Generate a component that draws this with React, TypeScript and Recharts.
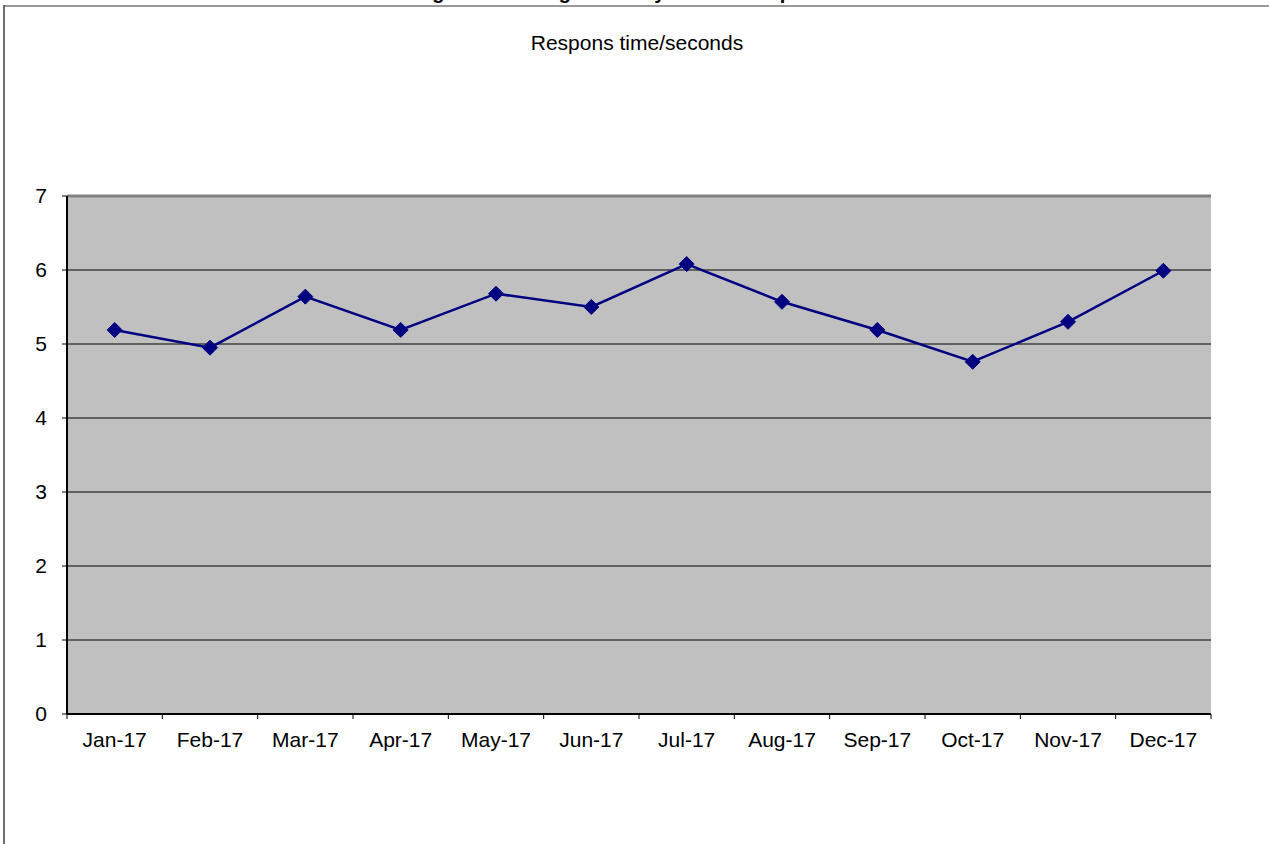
import React from "react";
import { LineChart, Line, XAxis, YAxis, CartesianGrid, ReferenceLine } from "recharts";

const months = ["Jan-17", "Feb-17", "Mar-17", "Apr-17", "May-17", "Jun-17", "Jul-17", "Aug-17", "Sep-17", "Oct-17", "Nov-17", "Dec-17"];
const responseSeconds = [5.19, 4.95, 5.64, 5.19, 5.68, 5.5, 6.08, 5.57, 5.19, 4.76, 5.3, 5.99];
const yTicks = [0, 1, 2, 3, 4, 5, 6, 7];
const chartTitle = "Figure 5: Average monthly website response time";
const subTitle = "Respons time/seconds";

const data = months.map((m, i) => ({ month: m, value: responseSeconds[i] }));

const FONT = "Arial, 'Liberation Sans', sans-serif";

const Diamond = (props: any) => {
  const { cx, cy } = props;
  if (cx == null || cy == null) return null;
  const r = 7.5;
  return (
    <polygon
      points={`${cx},${cy - r} ${cx + r},${cy} ${cx},${cy + r} ${cx - r},${cy}`}
      fill="#000080"
      stroke="#000080"
      strokeWidth={1}
    />
  );
};

const MonthTick = (props: any) => {
  const { x, y, payload, index, visibleTicksCount } = props;
  const half = payload.offset || 0;
  const last = index === visibleTicksCount - 1;
  return (
    <g>
      <line x1={x - half} x2={x - half} y1={y} y2={y + 5} stroke="#000" strokeWidth={1} />
      {last && <line x1={x + half} x2={x + half} y1={y} y2={y + 5} stroke="#000" strokeWidth={1} />}
      <text x={x} y={y + 33} textAnchor="middle" fontSize={21} fontFamily={FONT} fill="#000">
        {payload.value}
      </text>
    </g>
  );
};

export default function App() {
  return (
    <div style={{ position: "absolute", left: 0, top: 0, width: 1269, height: 844, background: "#fff", overflow: "hidden" }}>
      <div style={{ position: "absolute", left: 0, top: 0 }}>
        <LineChart width={1269} height={844} data={data} margin={{ top: 196, right: 58, left: 7, bottom: 100 }}>
          <CartesianGrid vertical={false} horizontal={true} stroke="#000" strokeOpacity={1} fill="#C0C0C0" fillOpacity={1} />
          <XAxis
            dataKey="month"
            scale="band"
            height={30}
            axisLine={{ stroke: "#000", strokeWidth: 2 }}
            tickLine={false}
            tickSize={0}
            tickMargin={0}
            interval={0}
            tick={<MonthTick />}
          />
          <YAxis
            yAxisId="r"
            orientation="right"
            width={0}
            domain={[0, 7]}
            tick={false}
            tickLine={false}
            axisLine={{ stroke: "#808080", strokeWidth: 3 }}
          />
          <YAxis
            domain={[0, 7]}
            ticks={yTicks}
            width={60}
            interval={0}
            axisLine={{ stroke: "#000", strokeWidth: 2 }}
            tickLine={{ stroke: "#000" }}
            tickSize={5}
            tickMargin={15}
            tick={{ fill: "#000", fontSize: 21, fontFamily: FONT }}
          />
          <ReferenceLine y={7} stroke="#808080" strokeWidth={3} />
          <Line
            type="linear"
            dataKey="value"
            stroke="#000080"
            strokeWidth={2.5}
            dot={<Diamond />}
            activeDot={false}
            isAnimationActive={false}
          />
        </LineChart>
      </div>
      <svg width={1269} height={844} style={{ position: "absolute", left: 0, top: 0, pointerEvents: "none" }}>
        <text x={650} y={-1} textAnchor="middle" fontSize={20} fontWeight="bold" fontFamily={FONT} fill="#000">
          {chartTitle}
        </text>
        <line x1={4} x2={1269} y1={6} y2={6} stroke="#999" strokeWidth={2} />
        <line x1={4} x2={4} y1={5} y2={844} stroke="#404040" strokeWidth={1.5} />
        <text x={637} y={50} textAnchor="middle" fontSize={21} fontFamily={FONT} fill="#000">
          {subTitle}
        </text>
      </svg>
    </div>
  );
}
